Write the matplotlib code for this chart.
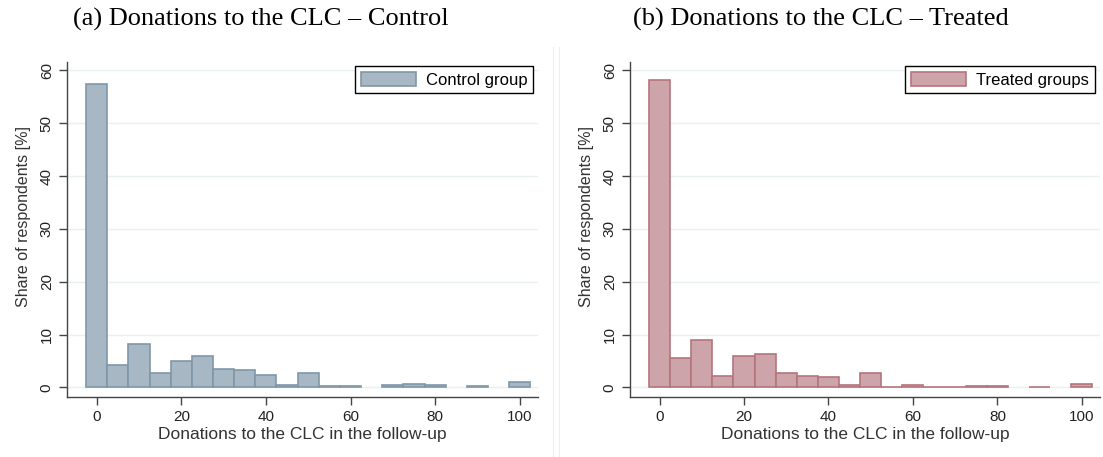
"""Histograms of donations to the CLC in the follow-up, control vs treated."""

import matplotlib
matplotlib.use("Agg")
import matplotlib.pyplot as plt
from matplotlib.lines import Line2D

bin_centers = [0, 5, 10, 15, 20, 25, 30, 35, 40, 45, 50,
               55, 60, 65, 70, 75, 80, 85, 90, 95, 100]
control_share = [57.4, 4.3, 8.2, 2.7, 5.0, 5.9, 3.5, 3.3, 2.3, 0.45, 2.8,
                 0.25, 0.25, 0.0, 0.45, 0.6, 0.45, 0.0, 0.25, 0.0, 1.0]
treated_share = [58.1, 5.5, 8.9, 2.1, 5.9, 6.4, 2.8, 2.1, 2.0, 0.4, 2.8,
                 0.1, 0.45, 0.1, 0.1, 0.2, 0.25, 0.0, 0.15, 0.0, 0.6]

x_ticks = [0, 20, 40, 60, 80, 100]
y_ticks = [0, 10, 20, 30, 40, 50, 60]

titles = ["(a) Donations to the CLC \u2013 Control",
          "(b) Donations to the CLC \u2013 Treated"]
legend_labels = ["Control group", "Treated groups"]
x_label = "Donations to the CLC in the follow-up"
y_label = "Share of respondents [%]"

FILL_COLORS = ["#A8B7C4", "#CDA4A9"]
EDGE_COLORS = ["#7F97A9", "#B5747B"]
GRID_COLOR = "#E8F0F1"
SPINE_COLOR = "#444444"

plt.rcParams["font.family"] = ["Liberation Sans", "DejaVu Sans"]

fig = plt.figure(figsize=(11.03, 4.57), dpi=100)

axes_boxes = [
    [67 / 1103, 60 / 457, 471 / 1103, 335 / 457],
    [630 / 1103, 60 / 457, 470 / 1103, 335 / 457],
]
title_x = [261 / 1103, 821 / 1103]

for i, values in enumerate([control_share, treated_share]):
    ax = fig.add_axes(axes_boxes[i])
    # empty bins are not drawn at all
    xs = [c for c, v in zip(bin_centers, values) if v > 0]
    hs = [v for v in values if v > 0]
    ax.bar(xs, hs, width=5, color=FILL_COLORS[i],
           edgecolor=EDGE_COLORS[i], linewidth=1.2, zorder=2,
           label=legend_labels[i])

    ax.set_xlim(-7, 104.3)
    ax.set_ylim(-1.8, 61.6)
    ax.set_xticks(x_ticks)
    ax.set_yticks(y_ticks)
    for yv in y_ticks:
        ax.axhline(yv, color=GRID_COLOR, linewidth=1.0, zorder=0)

    for side in ["top", "right"]:
        ax.spines[side].set_visible(False)
    for side in ["left", "bottom"]:
        ax.spines[side].set_color(SPINE_COLOR)
        ax.spines[side].set_linewidth(1.0)
    ax.tick_params(axis="both", length=6, width=1.0, color=SPINE_COLOR,
                   labelsize=11, labelcolor="#222222")
    for lab in ax.get_yticklabels():
        lab.set_rotation(90)
        lab.set_va("center")

    ax.set_xlabel(x_label, fontsize=12.5, color="#333333", labelpad=2)
    ax.set_ylabel(y_label, fontsize=11.5, color="#333333")
    ax.yaxis.set_label_coords(-36 / 471, 0.54)

    leg = ax.legend(loc="upper right", fontsize=12, frameon=True,
                    fancybox=False, edgecolor="black", framealpha=1,
                    handlelength=3.3, handleheight=0.9, borderpad=0.35,
                    handletextpad=0.6, borderaxespad=0,
                    bbox_to_anchor=(1.0 - 5 / 471, 1.0 - 4 / 335))
    leg.get_frame().set_linewidth(1.0)

    fig.text(title_x[i], 1 - 19 / 457, titles[i], ha="center", va="center",
             fontsize=19, family="Liberation Serif", color="black")

# faint borders between the two sub-figures
for xpix in [553, 559]:
    fig.add_artist(Line2D([xpix / 1103, xpix / 1103], [0, 1 - 47 / 457],
                          color="#EEEEEE", linewidth=0.8))

fig.savefig("out.png", dpi=100)
